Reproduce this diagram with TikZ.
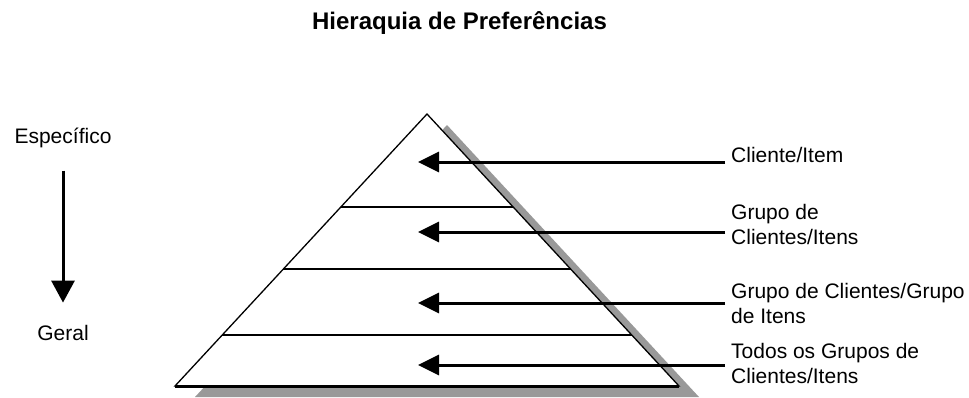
\documentclass[tikz,border=0pt]{standalone}
\usepackage{fontspec}
\setmainfont{Liberation Sans}
\usetikzlibrary{arrows.meta, calc}

\begin{document}
\begin{tikzpicture}[
  x=1pt, y=-1pt,
  font=\fontsize{21}{25}\selectfont,
  lbl/.style={align=left, inner sep=0pt, anchor=base west},
  side/.style={inner sep=0pt, anchor=base},
  arr/.style={-{Triangle[length=21pt, width=20pt]}, line width=3pt},
  edge/.style={line width=1.3pt},
  tier/.style={line width=2pt}]

  \useasboundingbox (0,0) rectangle (969,397);

  % title
  \node[font=\fontsize{24}{28}\selectfont\bfseries] (title) at (459.5,23)
    {Hieraquia de Preferências};

  % pyramid corners
  \coordinate (apex) at (427,114);
  \coordinate (bl) at (175,386);
  \coordinate (br) at (679,386);

  % shadow, then pyramid on top
  \fill[black!40] ([shift={(20,11)}]apex) -- ([shift={(20,11)}]bl)
    -- ([shift={(20,11)}]br) -- cycle;
  \filldraw[fill=white, edge] (apex) -- (bl) -- (br) -- cycle;
  \draw[line width=3pt] (bl) -- (br);

  % tiers
  \foreach \t in {0.342, 0.570, 0.8125}
    \draw[tier] ($(apex)!\t!(bl)$) -- ($(apex)!\t!(br)$);

  % labels (base = last line)
  \node[lbl] (item) at (731,162) {Cliente/Item};
  \node[lbl] (grpcli) at (731,244) {Grupo de\\Clientes/Itens};
  \node[lbl] (grpboth) at (731,323) {Grupo de Clientes/Grupo\\de Itens};
  \node[lbl] (todos) at (731,383) {Todos os Grupos de\\Clientes/Itens};

  % pointers into the pyramid
  \foreach \i/\y in {1/162, 2/232, 3/303, 4/365} {
    \coordinate (s\i) at (725,\y);
    \coordinate (t\i) at (418,\y);
    \draw[arr] (s\i) -- (t\i);
  }

  % specific -> general
  \node[side] (spec) at (63,143) {Específico};
  \node[side] (geral) at (63,340) {Geral};
  \draw[-{Triangle[length=22pt, width=23pt]}, line width=3pt,
        shorten <=23pt, shorten >=22pt] (spec) -- (geral);
\end{tikzpicture}
\end{document}
